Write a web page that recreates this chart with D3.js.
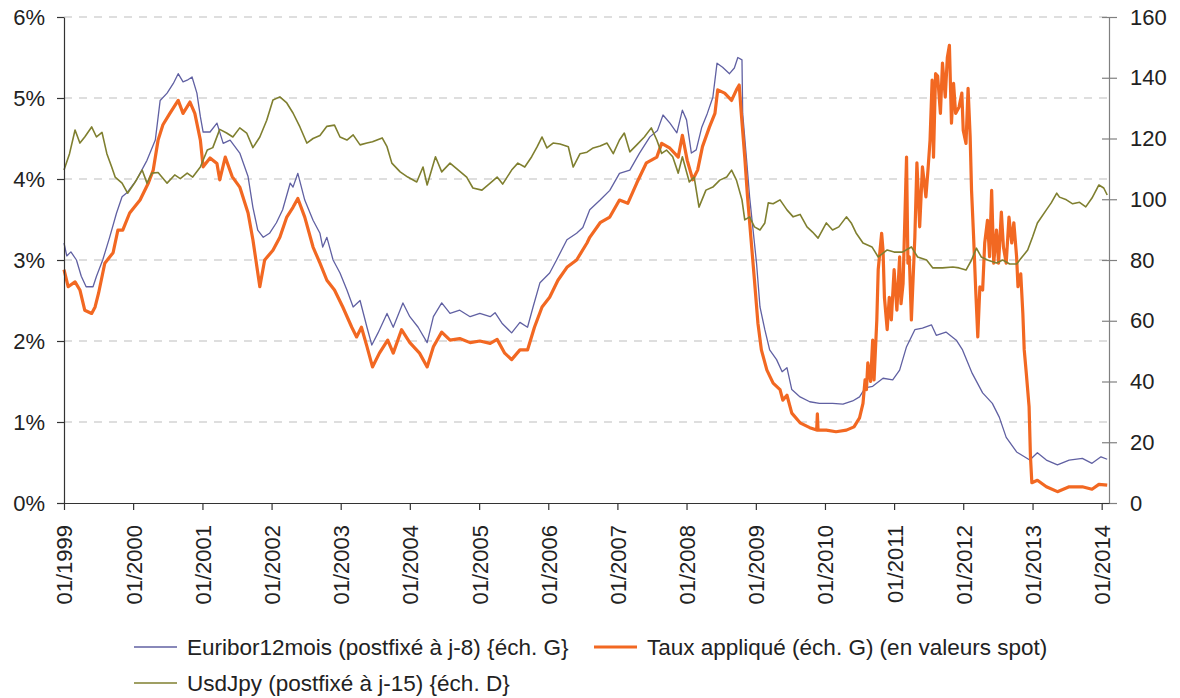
<!DOCTYPE html>
<html>
<head>
<meta charset="utf-8">
<script src="https://cdn.jsdelivr.net/npm/d3@7"></script>
<style>
	body { margin: 0; background: #fff; }
	svg { display: block; font-family: "Liberation Sans", Arial, sans-serif; }
</style>
</head>
<body>
<div id="chart"></div>
<script>
/**********************************************************/
/*	Data (decimal year, value)							  */
/**********************************************************/

// Euribor 12 mois, % (left scale)
var euriborData = [
	[1999.00, 3.21], [1999.04, 3.05], [1999.10, 3.10], [1999.18, 3.00], [1999.25, 2.80], [1999.32, 2.67],
	[1999.42, 2.67], [1999.47, 2.80], [1999.56, 3.00], [1999.66, 3.28], [1999.76, 3.58], [1999.84, 3.78],
	[1999.91, 3.83], [2000.05, 3.99], [2000.20, 4.23], [2000.32, 4.48], [2000.39, 4.97], [2000.49, 5.06],
	[2000.58, 5.18], [2000.65, 5.30], [2000.72, 5.20], [2000.78, 5.22], [2000.85, 5.26], [2000.92, 5.06],
	[2000.97, 4.77], [2001.01, 4.58], [2001.11, 4.58], [2001.21, 4.69], [2001.30, 4.44], [2001.40, 4.48],
	[2001.54, 4.32], [2001.66, 4.03], [2001.73, 3.65], [2001.80, 3.37], [2001.88, 3.28], [2001.97, 3.33],
	[2002.07, 3.46], [2002.16, 3.62], [2002.27, 3.95], [2002.31, 3.90], [2002.38, 4.07], [2002.48, 3.74],
	[2002.60, 3.49], [2002.70, 3.33], [2002.74, 3.16], [2002.80, 3.28], [2002.89, 3.00], [2002.99, 2.84],
	[2003.09, 2.63], [2003.18, 2.42], [2003.28, 2.50], [2003.38, 2.17], [2003.45, 1.95], [2003.54, 2.10],
	[2003.67, 2.34], [2003.76, 2.17], [2003.90, 2.47], [2004.00, 2.30], [2004.12, 2.17], [2004.25, 1.98],
	[2004.34, 2.30], [2004.46, 2.47], [2004.58, 2.34], [2004.72, 2.38], [2004.87, 2.30], [2005.01, 2.34],
	[2005.16, 2.30], [2005.23, 2.35], [2005.33, 2.22], [2005.47, 2.10], [2005.59, 2.23], [2005.70, 2.17],
	[2005.78, 2.42], [2005.88, 2.72], [2006.02, 2.84], [2006.12, 3.00], [2006.27, 3.25], [2006.41, 3.33],
	[2006.50, 3.40], [2006.60, 3.62], [2006.75, 3.74], [2006.89, 3.86], [2007.03, 4.07], [2007.18, 4.11],
	[2007.32, 4.32], [2007.47, 4.52], [2007.58, 4.60], [2007.66, 4.79], [2007.76, 4.69], [2007.86, 4.57],
	[2007.94, 4.85], [2008.00, 4.73], [2008.07, 4.32], [2008.14, 4.36], [2008.22, 4.64], [2008.30, 4.81],
	[2008.38, 5.01], [2008.44, 5.43], [2008.52, 5.38], [2008.62, 5.30], [2008.69, 5.37], [2008.74, 5.50],
	[2008.80, 5.47], [2008.81, 4.81], [2008.87, 4.20], [2008.91, 3.78], [2008.96, 3.37], [2009.01, 2.96],
	[2009.06, 2.42], [2009.13, 2.14], [2009.20, 1.89], [2009.30, 1.77], [2009.38, 1.62], [2009.45, 1.67],
	[2009.52, 1.40], [2009.64, 1.31], [2009.78, 1.25], [2009.92, 1.23], [2010.11, 1.23], [2010.26, 1.22],
	[2010.40, 1.26], [2010.50, 1.31], [2010.58, 1.42], [2010.69, 1.44], [2010.84, 1.54], [2010.98, 1.52],
	[2011.08, 1.64], [2011.18, 1.93], [2011.30, 2.14], [2011.41, 2.16], [2011.54, 2.20], [2011.61, 2.07],
	[2011.75, 2.11], [2011.90, 2.01], [2011.99, 1.89], [2012.13, 1.60], [2012.28, 1.36], [2012.42, 1.23],
	[2012.52, 1.06], [2012.62, 0.81], [2012.77, 0.63], [2012.96, 0.53], [2013.07, 0.62], [2013.20, 0.53],
	[2013.36, 0.47], [2013.53, 0.53], [2013.72, 0.55], [2013.86, 0.49], [2013.99, 0.57], [2014.08, 0.54]
];

// Taux appliqué, % (left scale)
var tauxData = [
	[1999.00, 2.88], [1999.06, 2.67], [1999.16, 2.73], [1999.23, 2.63], [1999.30, 2.38], [1999.40, 2.34],
	[1999.45, 2.42], [1999.50, 2.59], [1999.59, 2.96], [1999.71, 3.09], [1999.78, 3.37], [1999.85, 3.37],
	[1999.95, 3.58], [2000.10, 3.74], [2000.22, 3.95], [2000.29, 4.11], [2000.36, 4.48], [2000.43, 4.67],
	[2000.53, 4.81], [2000.65, 4.97], [2000.72, 4.81], [2000.82, 4.95], [2000.89, 4.81], [2000.97, 4.48],
	[2001.01, 4.15], [2001.11, 4.26], [2001.21, 4.19], [2001.25, 3.99], [2001.33, 4.27], [2001.43, 4.03],
	[2001.54, 3.90], [2001.66, 3.58], [2001.73, 3.25], [2001.83, 2.67], [2001.90, 3.00], [2002.02, 3.12],
	[2002.12, 3.28], [2002.22, 3.53], [2002.31, 3.65], [2002.38, 3.76], [2002.48, 3.53], [2002.60, 3.16],
	[2002.70, 2.96], [2002.80, 2.75], [2002.91, 2.63], [2003.03, 2.42], [2003.16, 2.17], [2003.23, 2.05],
	[2003.30, 2.17], [2003.38, 1.93], [2003.46, 1.68], [2003.56, 1.85], [2003.68, 2.01], [2003.76, 1.85],
	[2003.88, 2.14], [2004.00, 1.98], [2004.14, 1.85], [2004.25, 1.68], [2004.34, 1.93], [2004.46, 2.11],
	[2004.58, 2.01], [2004.72, 2.03], [2004.87, 1.98], [2005.01, 2.00], [2005.16, 1.97], [2005.26, 2.02],
	[2005.37, 1.85], [2005.47, 1.77], [2005.59, 1.89], [2005.70, 1.89], [2005.80, 2.17], [2005.91, 2.42],
	[2006.02, 2.54], [2006.14, 2.75], [2006.27, 2.91], [2006.41, 3.00], [2006.56, 3.21], [2006.60, 3.28],
	[2006.75, 3.46], [2006.89, 3.53], [2007.03, 3.74], [2007.15, 3.70], [2007.28, 3.95], [2007.42, 4.20],
	[2007.57, 4.27], [2007.64, 4.44], [2007.76, 4.38], [2007.88, 4.27], [2007.94, 4.54], [2008.01, 4.23],
	[2008.09, 3.99], [2008.16, 4.11], [2008.23, 4.40], [2008.33, 4.64], [2008.41, 4.81], [2008.45, 5.10],
	[2008.55, 5.06], [2008.65, 4.97], [2008.72, 5.10], [2008.76, 5.16], [2008.79, 4.81], [2008.84, 4.27],
	[2008.88, 3.78], [2008.94, 3.16], [2008.98, 2.75], [2009.03, 2.22], [2009.08, 1.89], [2009.16, 1.64],
	[2009.25, 1.48], [2009.35, 1.40], [2009.39, 1.27], [2009.45, 1.33], [2009.52, 1.11], [2009.64, 0.99],
	[2009.78, 0.93], [2009.88, 0.90], [2009.89, 1.10], [2009.90, 0.90], [2010.02, 0.90], [2010.16, 0.88],
	[2010.31, 0.90], [2010.42, 0.94], [2010.50, 1.05], [2010.55, 1.23], [2010.58, 1.52], [2010.60, 1.40],
	[2010.62, 1.73], [2010.66, 1.50], [2010.69, 2.01], [2010.71, 1.52], [2010.75, 2.26], [2010.77, 2.88],
	[2010.82, 3.33], [2010.84, 3.12], [2010.86, 2.54], [2010.90, 2.14], [2010.93, 2.54], [2010.96, 2.26],
	[2011.00, 2.88], [2011.04, 2.38], [2011.08, 3.04], [2011.10, 2.46], [2011.13, 2.71], [2011.18, 4.27],
	[2011.20, 2.96], [2011.22, 3.04], [2011.25, 2.26], [2011.30, 3.28], [2011.33, 4.20], [2011.37, 3.41],
	[2011.41, 4.15], [2011.46, 3.78], [2011.49, 4.11], [2011.52, 4.48], [2011.55, 5.22], [2011.57, 4.27],
	[2011.60, 5.30], [2011.63, 5.27], [2011.67, 4.81], [2011.70, 5.43], [2011.74, 5.01], [2011.77, 5.50],
	[2011.80, 5.65], [2011.83, 4.69], [2011.86, 5.18], [2011.89, 4.81], [2011.94, 4.89], [2011.98, 5.06],
	[2012.00, 4.60], [2012.04, 4.44], [2012.07, 5.12], [2012.10, 4.52], [2012.12, 3.86], [2012.15, 3.28],
	[2012.18, 2.63], [2012.21, 2.05], [2012.24, 2.67], [2012.28, 2.63], [2012.31, 3.21], [2012.35, 3.49],
	[2012.38, 3.04], [2012.41, 3.86], [2012.44, 2.96], [2012.48, 3.37], [2012.51, 2.96], [2012.55, 3.59],
	[2012.58, 3.16], [2012.62, 2.96], [2012.66, 3.53], [2012.70, 3.21], [2012.73, 3.46], [2012.77, 3.04],
	[2012.79, 2.67], [2012.83, 2.83], [2012.86, 2.34], [2012.88, 1.89], [2012.91, 1.60], [2012.95, 1.19],
	[2012.97, 0.57], [2012.99, 0.25], [2013.07, 0.28], [2013.20, 0.20], [2013.36, 0.14], [2013.53, 0.20],
	[2013.72, 0.20], [2013.86, 0.17], [2013.96, 0.23], [2014.08, 0.22]
];

// UsdJpy (right scale)
var usdJpyData = [
	[1999.00, 109.6], [1999.08, 115.0], [1999.16, 122.8], [1999.23, 118.5], [1999.30, 120.5], [1999.40, 123.8],
	[1999.47, 120.5], [1999.55, 122.0], [1999.62, 115.0], [1999.69, 110.6], [1999.74, 107.3], [1999.84, 105.3],
	[1999.92, 102.0], [2000.02, 105.3], [2000.13, 109.6], [2000.20, 105.3], [2000.27, 108.6], [2000.36, 108.8],
	[2000.49, 105.3], [2000.60, 108.0], [2000.68, 106.8], [2000.78, 108.6], [2000.86, 107.3], [2000.97, 110.6],
	[2001.07, 116.2], [2001.15, 117.0], [2001.25, 123.0], [2001.35, 121.8], [2001.44, 120.5], [2001.54, 123.5],
	[2001.64, 121.8], [2001.73, 117.0], [2001.83, 120.5], [2001.93, 126.0], [2002.02, 132.7], [2002.12, 133.7],
	[2002.22, 131.7], [2002.31, 128.4], [2002.41, 123.8], [2002.51, 118.5], [2002.60, 120.0], [2002.70, 121.0],
	[2002.80, 124.0], [2002.91, 124.4], [2002.99, 120.5], [2003.09, 119.5], [2003.18, 121.2], [2003.28, 117.9],
	[2003.38, 118.5], [2003.46, 118.9], [2003.60, 120.2], [2003.67, 117.3], [2003.74, 111.9], [2003.86, 109.0],
	[2003.97, 107.3], [2004.10, 105.7], [2004.19, 110.6], [2004.25, 104.7], [2004.37, 114.0], [2004.46, 109.0],
	[2004.58, 111.9], [2004.70, 109.6], [2004.82, 107.3], [2004.91, 103.7], [2005.04, 103.0], [2005.16, 105.3],
	[2005.26, 107.3], [2005.34, 105.0], [2005.47, 109.6], [2005.56, 111.9], [2005.66, 110.6], [2005.76, 114.0],
	[2005.84, 117.3], [2005.91, 120.5], [2005.98, 116.9], [2006.07, 118.5], [2006.17, 118.2], [2006.29, 117.3],
	[2006.36, 110.6], [2006.46, 115.0], [2006.56, 115.5], [2006.65, 116.9], [2006.75, 117.5], [2006.85, 118.5],
	[2006.94, 115.0], [2007.03, 119.5], [2007.10, 121.8], [2007.18, 115.6], [2007.28, 117.9], [2007.39, 120.5],
	[2007.49, 123.5], [2007.57, 119.5], [2007.64, 115.1], [2007.71, 116.2], [2007.80, 114.0], [2007.88, 108.6],
	[2007.94, 114.0], [2008.04, 105.7], [2008.11, 107.3], [2008.18, 97.4], [2008.28, 103.0], [2008.38, 104.0],
	[2008.48, 106.3], [2008.58, 107.3], [2008.65, 109.6], [2008.72, 106.3], [2008.80, 99.8], [2008.84, 93.2],
	[2008.91, 94.2], [2008.98, 90.9], [2009.06, 89.9], [2009.13, 92.2], [2009.18, 98.8], [2009.25, 98.5],
	[2009.35, 99.8], [2009.45, 96.5], [2009.54, 94.2], [2009.64, 95.0], [2009.74, 90.9], [2009.82, 89.2],
	[2009.90, 87.2], [2010.02, 92.2], [2010.11, 89.9], [2010.20, 90.9], [2010.31, 94.2], [2010.38, 92.2],
	[2010.45, 88.9], [2010.55, 85.6], [2010.68, 84.3], [2010.77, 81.0], [2010.90, 83.3], [2011.00, 82.6],
	[2011.12, 82.6], [2011.25, 84.3], [2011.34, 81.0], [2011.47, 80.0], [2011.56, 77.4], [2011.70, 77.4],
	[2011.85, 77.7], [2011.94, 77.4], [2012.04, 76.7], [2012.12, 80.0], [2012.19, 83.9], [2012.26, 81.0],
	[2012.35, 80.0], [2012.48, 79.0], [2012.57, 80.0], [2012.67, 78.7], [2012.77, 78.7], [2012.84, 80.7],
	[2012.93, 83.3], [2013.00, 87.6], [2013.07, 92.2], [2013.20, 96.5], [2013.27, 98.8], [2013.35, 102.0],
	[2013.39, 100.7], [2013.49, 99.8], [2013.58, 98.5], [2013.68, 99.0], [2013.77, 97.5], [2013.86, 100.4],
	[2013.96, 104.7], [2014.03, 103.7], [2014.08, 101.4]
];

// Ticks
var yearTicks = d3.range(1999, 2015);
var leftTicks = [0, 1, 2, 3, 4, 5, 6];
var rightTicks = [0, 20, 40, 60, 80, 100, 120, 140, 160];

// Legend labels
var legendLabels = {
	euribor: "Euribor12mois (postfixé à j-8) {éch. G}",
	taux: "Taux appliqué (éch. G) (en valeurs spot)",
	usdjpy: "UsdJpy (postfixé à j-15) {éch. D}"
};

/**********************************************************/
/*	Utilities											  */
/**********************************************************/

/**
 * Decimal year to date
 */
function toDate(y) {
	var year = Math.floor(y);
	var start = Date.UTC(year, 0, 1), end = Date.UTC(year + 1, 0, 1);
	return new Date(start + (y - year) * (end - start));
}

/**********************************************************/
/*	Chart												  */
/**********************************************************/

var W = 1180, H = 698;
var margin = { left: 64, right: 71, top: 17, bottom: 195 };
var plotW = W - margin.left - margin.right;
var plotH = H - margin.top - margin.bottom;

var svg = d3.select("#chart").append("svg")
	.attr("width", W)
	.attr("height", H);

svg.append("rect").attr("width", W).attr("height", H).attr("fill", "#fff");

var g = svg.append("g")
	.attr("transform", "translate(" + margin.left + "," + margin.top + ")");

// Scales
var x = d3.scaleUtc()
	.domain([toDate(1999), toDate(2014.106)])
	.range([0, plotW]);
var yL = d3.scaleLinear().domain([0, 6]).range([plotH, 0]);
var yR = d3.scaleLinear().domain([0, 160]).range([plotH, 0]);

// Grid
g.append("g").selectAll("line")
	.data(leftTicks.filter(function(d) { return d > 0; }))
	.enter().append("line")
	.attr("x1", 0).attr("x2", plotW)
	.attr("y1", function(d) { return yL(d); })
	.attr("y2", function(d) { return yL(d); })
	.attr("stroke", "#bdbdbd")
	.attr("stroke-width", 1)
	.attr("stroke-dasharray", "8,7");

// Lines
var lineL = d3.line()
	.x(function(d) { return x(toDate(d[0])); })
	.y(function(d) { return yL(d[1]); });
var lineR = d3.line()
	.x(function(d) { return x(toDate(d[0])); })
	.y(function(d) { return yR(d[1]); });

g.append("path").datum(euriborData)
	.attr("d", lineL)
	.attr("fill", "none")
	.attr("stroke", "#6060a2")
	.attr("stroke-width", 1.3)
	.attr("stroke-linejoin", "round");

g.append("path").datum(tauxData)
	.attr("d", lineL)
	.attr("fill", "none")
	.attr("stroke", "#f26822")
	.attr("stroke-width", 3.2)
	.attr("stroke-linejoin", "round");

g.append("path").datum(usdJpyData)
	.attr("d", lineR)
	.attr("fill", "none")
	.attr("stroke", "#7f7f2f")
	.attr("stroke-width", 1.6)
	.attr("stroke-linejoin", "round");

// Axes
function styleAxis(sel, color) {
	sel.selectAll("path").attr("stroke", color).attr("stroke-width", 1.2);
	sel.selectAll("line").attr("stroke", color).attr("stroke-width", 1.2);
	sel.selectAll("text")
		.attr("fill", "#222")
		.style("font-size", "22px")
		.style("font-family", "'Liberation Sans', Arial, sans-serif");
}

var axL = g.append("g")
	.call(d3.axisLeft(yL).tickValues(leftTicks).tickSize(7).tickSizeOuter(0).tickPadding(12)
		.tickFormat(function(d) { return d + "%"; }));
styleAxis(axL, "#333");

var axR = g.append("g")
	.attr("transform", "translate(" + plotW + ",0)")
	.call(d3.axisRight(yR).tickValues(rightTicks).tickSize(8).tickSizeOuter(0).tickPadding(13));
axR.selectAll(".tick line").attr("x1", -7);
styleAxis(axR, "#808080");

var axB = g.append("g")
	.attr("transform", "translate(0," + plotH + ")")
	.call(d3.axisBottom(x)
		.tickValues(yearTicks.map(function(d) { return toDate(d); }))
		.tickSize(7).tickSizeOuter(0)
		.tickFormat(d3.utcFormat("%m/%Y")));
styleAxis(axB, "#333");
axB.selectAll("text")
	.attr("transform", "rotate(-90)")
	.attr("text-anchor", "end")
	.attr("x", -22)
	.attr("y", 0)
	.attr("dy", "0.36em");

// Legend
var legend = [
	{ label: legendLabels.euribor, color: "#6060a2", width: 1.3, x: 134, y: 647 },
	{ label: legendLabels.taux, color: "#f26822", width: 3, x: 594, y: 647 },
	{ label: legendLabels.usdjpy, color: "#7f7f2f", width: 1.6, x: 134, y: 683 }
];
var lg = svg.append("g").selectAll("g").data(legend).enter().append("g")
	.attr("transform", function(d) { return "translate(" + d.x + "," + d.y + ")"; });
lg.append("line")
	.attr("x1", 0).attr("x2", 43)
	.attr("stroke", function(d) { return d.color; })
	.attr("stroke-width", function(d) { return d.width; });
lg.append("text")
	.attr("x", 53)
	.attr("dy", "0.35em")
	.attr("fill", "#222")
	.style("font-size", "22.5px")
	.text(function(d) { return d.label; });
</script>
</body>
</html>
